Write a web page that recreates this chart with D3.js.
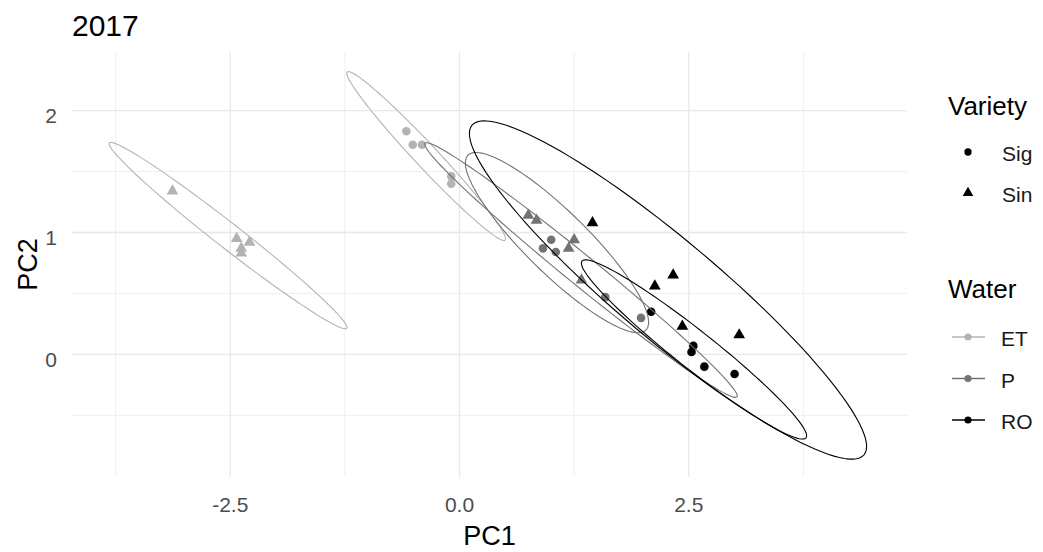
<!DOCTYPE html>
<html><head><meta charset="utf-8">
<script src="https://cdn.jsdelivr.net/npm/d3@7"></script>
<style>
body{margin:0;background:#fff}
svg{display:block}
text{font-family:"Liberation Sans",Arial,sans-serif}
</style>
</head><body>
<svg id="c" width="1043" height="552"></svg>
<script>
// ---------- data ----------
const waterLevels = ["ET", "P", "RO"];
const varietyLevels = ["Sig", "Sin"];
const waterColors = ["#b3b3b3", "#737373", "#000000"];

const ptWater   = ["ET","ET","ET","ET","ET", "ET","ET","ET","ET","ET",
                   "P","P","P","P","P", "P","P","P","P","P",
                   "RO","RO","RO","RO","RO", "RO","RO","RO","RO","RO"];
const ptVariety = ["Sig","Sig","Sig","Sig","Sig", "Sin","Sin","Sin","Sin","Sin",
                   "Sig","Sig","Sig","Sig","Sig", "Sin","Sin","Sin","Sin","Sin",
                   "Sig","Sig","Sig","Sig","Sig", "Sin","Sin","Sin","Sin","Sin"];
const ptPC1 = [-0.58,-0.51,-0.41,-0.09,-0.09,  -3.13,-2.43,-2.29,-2.38,-2.38,
               1.00,0.91,1.05,1.59,1.98,  0.75,0.84,1.25,1.19,1.33,
               2.09,2.55,2.53,2.67,3.00,  1.45,2.33,2.13,2.43,3.05];
const ptPC2 = [1.83,1.72,1.72,1.46,1.40,  1.34,0.95,0.92,0.87,0.83,
               0.94,0.87,0.84,0.47,0.30,  1.14,1.10,0.94,0.87,0.61,
               0.35,0.07,0.02,-0.10,-0.16,  1.08,0.65,0.56,0.23,0.16];

// confidence ellipses: centre and two conjugate semi-axes (data units)
const ellWater   = ["ET","ET","P","P","RO","RO"];
const ellVariety = ["Sin","Sig","Sig","Sin","Sin","Sig"];
const ellCx = [-2.5245, -0.3631, 1.325, 1.063, 2.2737, 2.557];
const ellCy = [ 0.9746,  1.6265, 0.692, 0.917, 0.5283, 0.041];
const ellAx = [ 1.2945,  0.8604, 1.7012, 0.9706, 2.1374, 1.2214];
const ellAy = [-0.7600, -0.6896, -1.0401, -0.7166, -1.3514, -0.7248];
const ellBx = [-0.0840, -0.0916, -0.1033, -0.2366, -0.3511, -0.1287];
const ellBy = [-0.0807, -0.0645, -0.0950, -0.1810, -0.3133, -0.1220];

const xTicks = [-2.5, 0, 2.5];
const xTickLabels = ["-2.5", "0.0", "2.5"];
const xMinor = [-3.75, -1.25, 1.25, 3.75];
const yTicks = [0, 1, 2];
const yTickLabels = ["0", "1", "2"];
const yMinor = [-0.5, 0.5, 1.5];
const xDomain = [-4.226, 4.88];
const yDomain = [-1.005, 2.48];

// ---------- drawing ----------
const svg = d3.select("#c");
const L = 72, R = 907, T = 52, B = 477;
const x = d3.scaleLinear().domain(xDomain).range([L, R]);
const y = d3.scaleLinear().domain(yDomain).range([B, T]);
const col = d3.scaleOrdinal().domain(waterLevels).range(waterColors);
const shp = d3.scaleOrdinal().domain(varietyLevels).range([d3.symbolCircle, d3.symbolTriangle]);

const grid = svg.append("g");
grid.selectAll(".mx").data(xMinor).join("line")
  .attr("x1", d => x(d)).attr("x2", d => x(d)).attr("y1", T).attr("y2", B)
  .attr("stroke", "#efefef").attr("stroke-width", 1);
grid.selectAll(".my").data(yMinor).join("line")
  .attr("y1", d => y(d)).attr("y2", d => y(d)).attr("x1", L).attr("x2", R)
  .attr("stroke", "#efefef").attr("stroke-width", 1);
grid.selectAll(".Mx").data(xTicks).join("line")
  .attr("x1", d => x(d)).attr("x2", d => x(d)).attr("y1", T).attr("y2", B)
  .attr("stroke", "#e8e8e8").attr("stroke-width", 1.3);
grid.selectAll(".My").data(yTicks).join("line")
  .attr("y1", d => y(d)).attr("y2", d => y(d)).attr("x1", L).attr("x2", R)
  .attr("stroke", "#e8e8e8").attr("stroke-width", 1.3);

// points
const pts = ptPC1.map((v, i) => ({x: v, y: ptPC2[i], w: ptWater[i], v: ptVariety[i]}));
svg.append("g").selectAll("path").data(pts).join("path")
  .attr("transform", d => `translate(${x(d.x)},${y(d.y)})`)
  .attr("d", d => d3.symbol().type(shp(d.v)).size(d.v === "Sig" ? 58 : 60)())
  .attr("fill", d => col(d.w));

// ellipses
const tt = d3.range(0, 120).map(k => k / 120 * 2 * Math.PI);
const line = d3.line().curve(d3.curveLinearClosed);
svg.append("g").selectAll("path").data(ellCx.map((c, i) => i)).join("path")
  .attr("d", i => line(tt.map(t => [
      x(ellCx[i] + ellAx[i] * Math.cos(t) + ellBx[i] * Math.sin(t)),
      y(ellCy[i] + ellAy[i] * Math.cos(t) + ellBy[i] * Math.sin(t))])))
  .attr("fill", "none").attr("stroke", i => col(ellWater[i])).attr("stroke-width", 1.1);

// axis tick labels
svg.append("g").selectAll("text").data(xTicks).join("text")
  .attr("x", d => x(d)).attr("y", 512).attr("text-anchor", "middle")
  .attr("font-size", 21).attr("fill", "#4d4d4d").text((d, i) => xTickLabels[i]);
svg.append("g").selectAll("text").data(yTicks).join("text")
  .attr("x", 57).attr("y", d => y(d) + 12.5).attr("text-anchor", "end")
  .attr("font-size", 21).attr("fill", "#4d4d4d").text((d, i) => yTickLabels[i]);

// titles
svg.append("text").attr("x", L).attr("y", 36).attr("font-size", 30).attr("fill", "#000").text("2017");
svg.append("text").attr("x", (L + R) / 2).attr("y", 545).attr("text-anchor", "middle")
  .attr("font-size", 27).attr("fill", "#000").text("PC1");
svg.append("text").attr("transform", `translate(37,${(T + B) / 2}) rotate(-90)`)
  .attr("text-anchor", "middle").attr("font-size", 27).attr("fill", "#000").text("PC2");

// legend: Variety
const lg = svg.append("g");
lg.append("text").attr("x", 948).attr("y", 115).attr("font-size", 26).attr("fill", "#000").text("Variety");
const vy = d3.scalePoint().domain(varietyLevels).range([152, 193]);
lg.selectAll(".vk").data(varietyLevels).join("path")
  .attr("transform", d => `translate(968,${vy(d)})`)
  .attr("d", d => d3.symbol().type(shp(d)).size(d === "Sig" ? 42 : 50)())
  .attr("fill", "#000");
lg.selectAll(".vl").data(varietyLevels).join("text")
  .attr("x", 1002).attr("y", d => vy(d) + 9).attr("font-size", 21).attr("fill", "#1a1a1a").text(d => d);

// legend: Water
lg.append("text").attr("x", 948).attr("y", 298).attr("font-size", 26).attr("fill", "#000").text("Water");
const wy = d3.scalePoint().domain(waterLevels).range([337, 420]);
lg.selectAll(".wl").data(waterLevels).join("line")
  .attr("x1", 952).attr("x2", 985).attr("y1", d => wy(d)).attr("y2", d => wy(d))
  .attr("stroke", d => col(d)).attr("stroke-width", 1.4);
lg.selectAll(".wk").data(waterLevels).join("circle")
  .attr("cx", 968).attr("cy", d => wy(d)).attr("r", 3.6).attr("fill", d => col(d));
lg.selectAll(".wt").data(waterLevels).join("text")
  .attr("x", 1001).attr("y", d => wy(d) + 9).attr("font-size", 21).attr("fill", "#1a1a1a").text(d => d);
</script>
</body></html>
